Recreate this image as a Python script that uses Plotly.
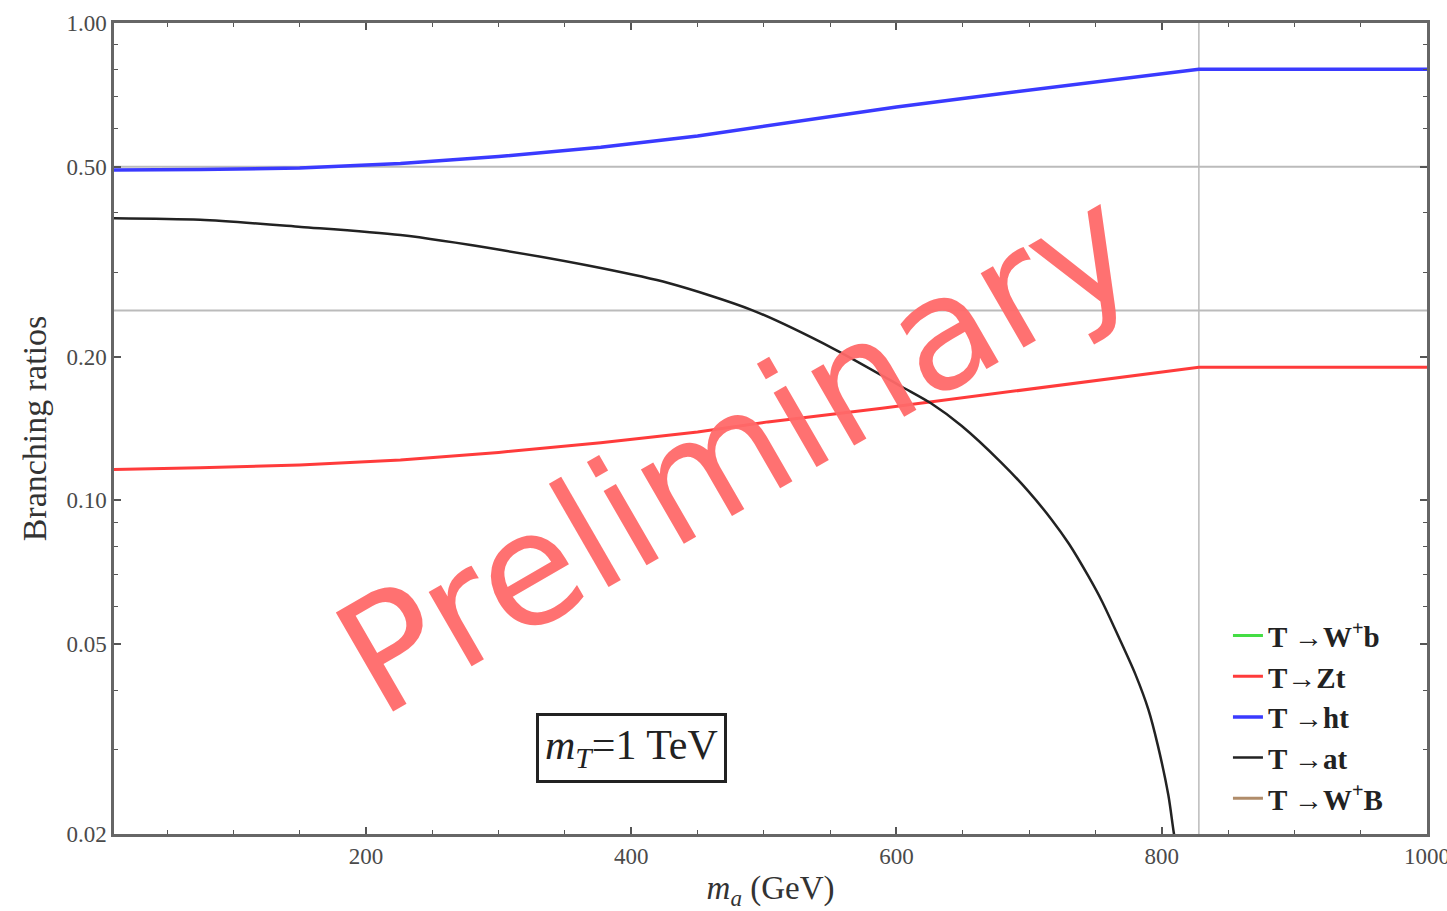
import plotly.graph_objects as go

# ---- data ----
ma_ht = [10, 75, 150, 226, 300, 377, 450, 500, 550, 600, 650, 700, 750, 800, 828, 1000]
br_ht = [0.492, 0.493, 0.497, 0.508, 0.525, 0.549, 0.580, 0.607, 0.637, 0.667, 0.695, 0.723, 0.751, 0.780, 0.800, 0.800]

ma_zt = [10, 75, 150, 226, 300, 377, 450, 503, 589, 650, 715, 770, 828, 1000]
br_zt = [0.116, 0.117, 0.1186, 0.1215, 0.126, 0.132, 0.139, 0.146, 0.156, 0.164, 0.173, 0.181, 0.190, 0.190]

ma_at = [10, 75, 151, 226, 302, 377, 428, 491, 553, 604, 626, 649, 679, 699, 717, 730, 745, 755, 767, 780, 790,
         797, 805, 809, 812]
br_at = [0.390, 0.387, 0.374, 0.3595, 0.3345, 0.3067, 0.2853, 0.2504, 0.2075, 0.173, 0.1597, 0.1433, 0.1200, 0.1048,
         0.0911, 0.0811, 0.0691, 0.0614, 0.0521, 0.0433, 0.0364, 0.0307, 0.0241, 0.0202, 0.0180]

# not visible in the plotted range (listed in the legend only)
ma_wb = [None]
br_wb = [None]
ma_wB = [None]
br_wB = [None]

x_ticks = [200, 400, 600, 800, 1000]
y_ticks = [0.02, 0.05, 0.10, 0.20, 0.50, 1.00]
y_tick_text = ["0.02", "0.05", "0.10", "0.20", "0.50", "1.00"]
y_minor = [0.03, 0.04, 0.06, 0.07, 0.08, 0.09, 0.3, 0.4, 0.6, 0.7, 0.8, 0.9]
grid_x = [828]
grid_y = [0.5, 0.25]

SERIF = "Liberation Serif, Times New Roman, serif"

fig = go.Figure()
fig.add_trace(go.Scatter(x=ma_wb, y=br_wb, mode="lines", name="<b>T →W<sup>+</sup>b</b>",
                         line=dict(color="#44dd44", width=3)))
fig.add_trace(go.Scatter(x=ma_zt, y=br_zt, mode="lines", name="<b>T→Zt</b>",
                         line=dict(color="#ff3b3b", width=3)))
fig.add_trace(go.Scatter(x=ma_ht, y=br_ht, mode="lines", name="<b>T →ht</b>",
                         line=dict(color="#3a3aff", width=3.5)))
fig.add_trace(go.Scatter(x=ma_at, y=br_at, mode="lines", name="<b>T →at</b>",
                         line=dict(color="#222222", width=2.5, shape="spline", smoothing=0.8)))
fig.add_trace(go.Scatter(x=ma_wB, y=br_wB, mode="lines", name="<b>T →W<sup>+</sup>B</b>",
                         line=dict(color="#b08c6a", width=3)))

shapes = []
for gx in grid_x:
    shapes.append(dict(type="line", xref="x", yref="paper", x0=gx, x1=gx, y0=0, y1=1,
                       line=dict(color="#bbbbbb", width=1.5), layer="below"))
for gy in grid_y:
    shapes.append(dict(type="line", xref="paper", yref="y", x0=0, x1=1, y0=gy, y1=gy,
                       line=dict(color="#bbbbbb", width=2), layer="below"))

axis_common = dict(showline=True, linecolor="#666666", linewidth=2.5, mirror="ticks",
                   ticks="inside", ticklen=7, tickwidth=1.5, tickcolor="#555555",
                   showgrid=False, zeroline=False, ticklabeloverflow="allow", automargin=False,
                   tickfont=dict(family=SERIF, size=23, color="#4a4a4a"))

fig.update_layout(
    width=1447, height=911,
    margin=dict(l=114, r=20, t=23, b=77),
    paper_bgcolor="white", plot_bgcolor="white",
    shapes=shapes,
    xaxis=dict(range=[10, 1000], tickmode="array", tickvals=x_ticks,
               minor=dict(dtick=50, tick0=0, ticks="inside", ticklen=4, tickwidth=1.2, tickcolor="#555555"),
               title=dict(text="<i>m<sub>a</sub></i> (GeV)", font=dict(family=SERIF, size=33, color="#333333"),
                          standoff=8),
               **axis_common),
    yaxis=dict(type="log", range=[-1.69897, 0], tickmode="array", tickvals=y_ticks, ticktext=y_tick_text,
               minor=dict(tickmode="array", tickvals=y_minor, ticks="inside", ticklen=4, tickwidth=1.2,
                          tickcolor="#555555"),
               title=dict(text="Branching ratios", font=dict(family=SERIF, size=34, color="#333333"),
                          standoff=10),
               **axis_common),
    legend=dict(x=0.8484, y=0.276, xanchor="left", yanchor="top", bgcolor="rgba(0,0,0,0)",
                font=dict(family=SERIF, size=29, color="#222222"), itemwidth=30, tracegroupgap=0),
    showlegend=True,
    annotations=[
        dict(text="<i>m<sub>T</sub></i>=1 TeV", xref="paper", yref="paper", x=0.394, y=0.106,
             xanchor="center", yanchor="middle",
             showarrow=False, font=dict(family=SERIF, size=42, color="#222222"),
             bordercolor="#222222", borderwidth=3, borderpad=6, bgcolor="white"),
        dict(text="Preliminary", xref="paper", yref="paper", x=0.474, y=0.473, showarrow=False,
             xanchor="center", yanchor="middle",
             textangle=-30, font=dict(family="DejaVu Sans, sans-serif", size=157,
                                      color="rgba(255,105,105,0.95)")),
    ],
)

fig.write_html("out.html")
